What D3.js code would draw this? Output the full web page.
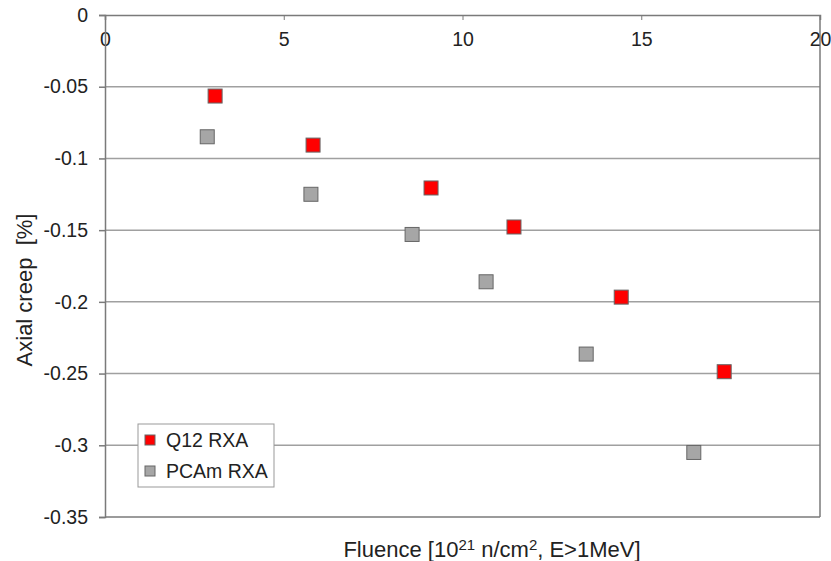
<!DOCTYPE html>
<html>
<head>
<meta charset="utf-8">
<script src="https://cdn.jsdelivr.net/npm/d3@7"></script>
<style>
  html, body { margin: 0; padding: 0; background: #fff; }
  svg { display: block; font-family: "Liberation Sans", Arial, sans-serif; }
</style>
</head>
<body>
<svg id="chart" width="831" height="561"></svg>
<script>
// Axial creep vs. fluence for two graphite grades
const q12Fluence   = [3.08, 5.82, 9.12, 11.44, 14.44, 17.32];
const q12Creep     = [-0.0565, -0.0907, -0.1206, -0.1478, -0.1967, -0.2487];
const pcamFluence  = [2.86, 5.76, 8.59, 10.66, 13.46, 16.47];
const pcamCreep    = [-0.0849, -0.125, -0.153, -0.186, -0.2364, -0.305];
const xTickValues  = [0, 5, 10, 15, 20];
const yTickValues  = [0, -0.05, -0.1, -0.15, -0.2, -0.25, -0.3, -0.35];
const seriesNames  = ["Q12 RXA", "PCAm RXA"];
const seriesColors = ["#ff0000", "#a6a6a6"];

const series = [
  { name: seriesNames[0], color: seriesColors[0], pts: q12Fluence.map((x, i) => ({ x, y: q12Creep[i] })) },
  { name: seriesNames[1], color: seriesColors[1], pts: pcamFluence.map((x, i) => ({ x, y: pcamCreep[i] })) }
];

const svg = d3.select("#chart");
const L = 105, T = 15, R = 820, B = 517;

const x = d3.scaleLinear().domain([0, 20]).range([L, R]);
const y = d3.scaleLinear().domain([0, -0.35]).range([T, B]);

const textColor = "#222";
const axisColor = "#7a7a7a";
const gridColor = "#a0a0a0";
const fontFam = "Liberation Sans, Arial, sans-serif";
const tickFont = 19.5;
const titleFont = 22;

// horizontal gridlines
svg.append("g")
  .selectAll("line")
  .data(yTickValues.filter(v => v !== 0 && v !== -0.35))
  .join("line")
  .attr("x1", L).attr("x2", R)
  .attr("y1", d => y(d)).attr("y2", d => y(d))
  .attr("stroke", gridColor).attr("stroke-width", 1.5);

// right and bottom frame of the plot area
svg.append("line").attr("x1", R).attr("x2", R).attr("y1", T).attr("y2", B)
  .attr("stroke", axisColor).attr("stroke-width", 1.5);
svg.append("line").attr("x1", L).attr("x2", R).attr("y1", B).attr("y2", B)
  .attr("stroke", axisColor).attr("stroke-width", 1.5);

// x axis along the top edge (y = 0), labels inside the plot
const xAxis = svg.append("g")
  .attr("transform", `translate(0,${T})`)
  .call(d3.axisBottom(x).tickValues(xTickValues).tickSize(5).tickPadding(12).tickFormat(d3.format("d")));
xAxis.select(".domain").attr("stroke", axisColor).attr("stroke-width", 1.5);
xAxis.selectAll(".tick line").attr("stroke", axisColor).attr("stroke-width", 1);
xAxis.selectAll(".tick text")
  .attr("fill", textColor).attr("font-size", tickFont).attr("font-family", fontFam);

// y axis on the left
const yAxis = svg.append("g")
  .attr("transform", `translate(${L},0)`)
  .call(d3.axisLeft(y).tickValues(yTickValues).tickSize(6).tickPadding(11)
    .tickFormat(d => d === 0 ? "0" : String(+d.toFixed(2))));
yAxis.select(".domain").attr("stroke", axisColor).attr("stroke-width", 1.5);
yAxis.selectAll(".tick line").attr("stroke", axisColor).attr("stroke-width", 1.5);
yAxis.selectAll(".tick text")
  .attr("fill", textColor).attr("font-size", tickFont).attr("font-family", fontFam);

// data markers
const m = 14;
series.forEach(s => {
  svg.append("g")
    .selectAll("rect")
    .data(s.pts)
    .join("rect")
    .attr("x", d => x(d.x) - m / 2)
    .attr("y", d => y(d.y) - m / 2)
    .attr("width", m).attr("height", m)
    .attr("fill", s.color)
    .attr("stroke", "#666").attr("stroke-width", 1);
});

// legend
const lg = svg.append("g").attr("transform", "translate(138,424)");
lg.append("rect").attr("width", 136).attr("height", 63)
  .attr("fill", "#fff").attr("stroke", "#999").attr("stroke-width", 1);
series.forEach((s, i) => {
  const row = lg.append("g").attr("transform", `translate(0,${16 + i * 31})`);
  row.append("rect").attr("x", 7).attr("y", -5).attr("width", 10).attr("height", 10)
    .attr("fill", s.color).attr("stroke", "#666").attr("stroke-width", 1);
  row.append("text").attr("x", 28).attr("y", 0).attr("dy", "0.36em")
    .attr("font-size", tickFont).attr("fill", textColor).text(s.name);
});

// axis titles
svg.append("text")
  .attr("transform", `translate(32,290) rotate(-90)`)
  .attr("text-anchor", "middle")
  .attr("font-size", titleFont).attr("fill", textColor)
  .text("Axial creep\u00a0\u00a0[%]");

const xt = svg.append("text")
  .attr("x", 492).attr("y", 557)
  .attr("text-anchor", "middle")
  .attr("font-size", titleFont).attr("fill", textColor);
xt.append("tspan").text("Fluence [10");
xt.append("tspan").attr("dy", -7).attr("font-size", 15).text("21");
xt.append("tspan").attr("dy", 7).text(" n/cm");
xt.append("tspan").attr("dy", -7).attr("font-size", 15).text("2");
xt.append("tspan").attr("dy", 7).text(", E>1MeV]");
</script>
</body>
</html>
